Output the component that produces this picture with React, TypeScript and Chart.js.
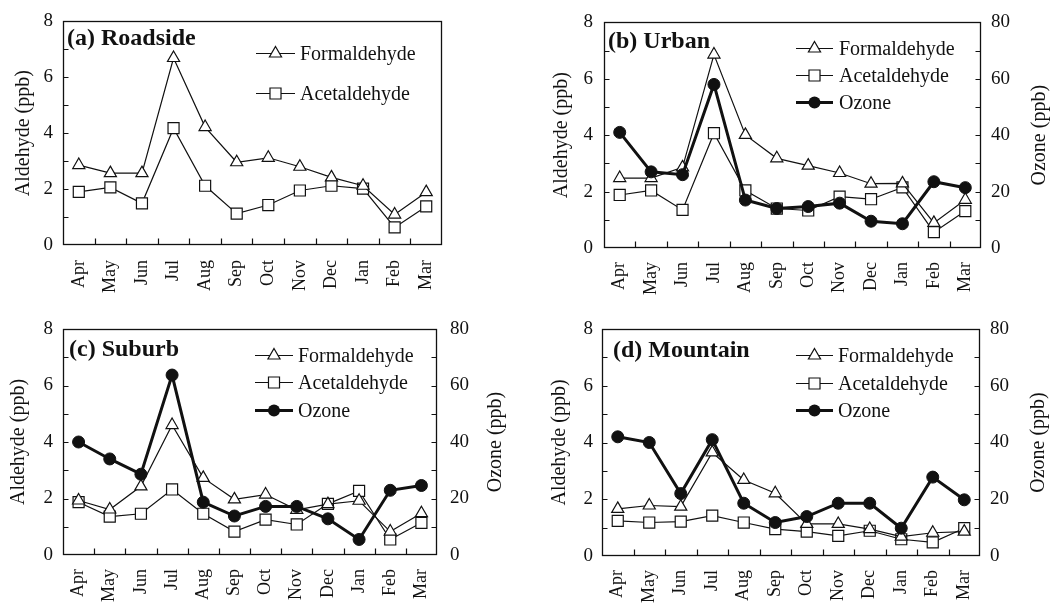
import React, { useEffect, useRef } from 'react';
import { Chart, registerables } from 'chart.js';

Chart.register(...registerables);

// ---------- data ----------
const months = ['Apr', 'May', 'Jun', 'Jul', 'Aug', 'Sep', 'Oct', 'Nov', 'Dec', 'Jan', 'Feb', 'Mar'];
const aldehydeTicks = [0, 2, 4, 6, 8];
const ozoneTicks = [0, 20, 40, 60, 80];

const roadsideFormaldehyde = [2.86, 2.57, 2.57, 6.69, 4.22, 2.96, 3.12, 2.8, 2.42, 2.12, 1.09, 1.89];
const roadsideAcetaldehyde = [1.9, 2.06, 1.49, 4.18, 2.12, 1.12, 1.43, 1.95, 2.12, 2.02, 0.63, 1.38];

const urbanFormaldehyde = [2.48, 2.48, 2.86, 6.86, 4.01, 3.18, 2.92, 2.66, 2.28, 2.29, 0.89, 1.71];
const urbanAcetaldehyde = [1.88, 2.04, 1.35, 4.07, 2.04, 1.4, 1.33, 1.82, 1.73, 2.15, 0.56, 1.31];
const urbanOzone = [41, 27, 26, 58, 17, 14, 14.7, 15.9, 9.5, 8.6, 23.5, 21.4];

const suburbFormaldehyde = [1.93, 1.61, 2.43, 4.6, 2.73, 1.97, 2.14, 1.6, 1.8, 1.92, 0.83, 1.48];
const suburbAcetaldehyde = [1.87, 1.36, 1.46, 2.32, 1.46, 0.83, 1.25, 1.08, 1.81, 2.27, 0.55, 1.14];
const suburbOzone = [40, 34, 28.6, 63.7, 18.7, 13.8, 17.2, 17.2, 12.8, 5.5, 22.9, 24.6];

const mountainFormaldehyde = [1.66, 1.78, 1.74, 3.65, 2.68, 2.21, 1.13, 1.13, 0.95, 0.68, 0.82, 0.86];
const mountainAcetaldehyde = [1.24, 1.18, 1.21, 1.42, 1.18, 0.95, 0.86, 0.71, 0.89, 0.59, 0.48, 0.98];
const mountainOzone = [42, 40, 22, 41, 18.6, 11.8, 13.9, 18.6, 18.6, 9.8, 27.8, 19.8];

// ---------- style ----------
const FONT = '"Liberation Serif", "Times New Roman", serif';
const INK = '#111';

type PanelCfg = {
  title: string;
  left: number; top: number; width: number; height: number;
  formaldehyde: number[]; acetaldehyde: number[]; ozone?: number[];
  padTop: number; padRight: number;
  yWidth: number; yTitlePad: number; yLabelPad: number;
  y1Width: number; y1TitleX: number; y1LabelPad: number;
  xHeight: number; xLabelPad: number;
  titleX: number; titleY: number;
  legLine: [number, number]; legText: number; legRows: number[];
};

const panels: PanelCfg[] = [
  {
    title: '(a) Roadside', left: 0, top: 0, width: 528, height: 302,
    formaldehyde: roadsideFormaldehyde, acetaldehyde: roadsideAcetaldehyde,
    padTop: 19, padRight: 86,
    yWidth: 63, yTitlePad: 12, yLabelPad: 10,
    y1Width: 0, y1TitleX: 0, y1LabelPad: 0,
    xHeight: 57, xLabelPad: 15,
    titleX: 67, titleY: 45,
    legLine: [256, 295], legText: 300, legRows: [53, 93],
  },
  {
    title: '(b) Urban', left: 528, top: 0, width: 528, height: 302,
    formaldehyde: urbanFormaldehyde, acetaldehyde: urbanAcetaldehyde, ozone: urbanOzone,
    padTop: 22, padRight: 0,
    yWidth: 76, yTitlePad: 22, yLabelPad: 11,
    y1Width: 75, y1TitleX: 512, y1LabelPad: 10,
    xHeight: 54, xLabelPad: 14,
    titleX: 80, titleY: 48,
    legLine: [268, 305], legText: 311, legRows: [48, 75, 102],
  },
  {
    title: '(c) Suburb', left: 0, top: 302, width: 528, height: 302,
    formaldehyde: suburbFormaldehyde, acetaldehyde: suburbAcetaldehyde, ozone: suburbOzone,
    padTop: 27, padRight: 0,
    yWidth: 63, yTitlePad: 7, yLabelPad: 10,
    y1Width: 91, y1TitleX: 496, y1LabelPad: 13,
    xHeight: 49, xLabelPad: 14,
    titleX: 69, titleY: 54,
    legLine: [255, 293], legText: 298, legRows: [53, 80, 108],
  },
  {
    title: '(d) Mountain', left: 528, top: 302, width: 528, height: 302,
    formaldehyde: mountainFormaldehyde, acetaldehyde: mountainAcetaldehyde, ozone: mountainOzone,
    padTop: 27, padRight: 0,
    yWidth: 74, yTitlePad: 20, yLabelPad: 9,
    y1Width: 76, y1TitleX: 511, y1LabelPad: 10,
    xHeight: 48, xLabelPad: 14,
    titleX: 85, titleY: 55,
    legLine: [268, 305], legText: 310, legRows: [53, 81, 108],
  },
];

function drawMarker(ctx: CanvasRenderingContext2D, kind: string, x: number, y: number, r: number) {
  ctx.beginPath();
  if (kind === 'triangle') {
    ctx.moveTo(x, y - r);
    ctx.lineTo(x + 0.866 * r, y + 0.5 * r);
    ctx.lineTo(x - 0.866 * r, y + 0.5 * r);
    ctx.closePath();
    ctx.fillStyle = '#fff';
    ctx.fill();
    ctx.lineWidth = 1.2;
    ctx.stroke();
  } else if (kind === 'rect') {
    const s = r * Math.SQRT1_2;
    ctx.rect(x - s, y - s, 2 * s, 2 * s);
    ctx.fillStyle = '#fff';
    ctx.fill();
    ctx.lineWidth = 1.2;
    ctx.stroke();
  } else {
    ctx.arc(x, y, r, 0, Math.PI * 2);
    ctx.fillStyle = INK;
    ctx.fill();
  }
}

function makeDecor(cfg: PanelCfg) {
  return {
    id: 'decor',
    afterDraw(chart: any) {
      const ctx: CanvasRenderingContext2D = chart.ctx;
      const { left, right, top, bottom } = chart.chartArea;
      const L = Math.round(left) + 0.5;
      const R = Math.round(right) - 0.5;
      const T = Math.round(top) + 0.5;
      const B = Math.round(bottom) - 0.5;
      ctx.save();
      ctx.strokeStyle = INK;
      ctx.lineWidth = 1.3;
      ctx.strokeRect(L, T, R - L, B - T);

      // x ticks at category boundaries (inward)
      const xs = chart.scales.x;
      ctx.lineWidth = 1.2;
      ctx.beginPath();
      for (let i = 0; i < months.length - 1; i++) {
        const bx = Math.round((xs.getPixelForValue(i) + xs.getPixelForValue(i + 1)) / 2) + 0.5;
        ctx.moveTo(bx, B);
        ctx.lineTo(bx, B - 6);
      }
      // left y ticks (major + minor)
      const ys = chart.scales.y;
      for (let v = 1; v < 8; v++) {
        const py = Math.round(ys.getPixelForValue(v)) + 0.5;
        ctx.moveTo(L, py);
        ctx.lineTo(L + 5, py);
      }
      // right y ticks
      if (chart.scales.y1) {
        const y1 = chart.scales.y1;
        for (let v = 10; v < 80; v += 10) {
          const py = Math.round(y1.getPixelForValue(v)) + 0.5;
          ctx.moveTo(R, py);
          ctx.lineTo(R - 5, py);
        }
      }
      ctx.stroke();

      // right axis title, reading bottom to top
      if (chart.scales.y1) {
        ctx.save();
        ctx.translate(cfg.y1TitleX, (top + bottom) / 2);
        ctx.rotate(-Math.PI / 2);
        ctx.font = `20px ${FONT}`;
        ctx.fillStyle = INK;
        ctx.textAlign = 'center';
        ctx.textBaseline = 'middle';
        ctx.fillText('Ozone (ppb)', 0, 0);
        ctx.restore();
      }

      // panel title
      ctx.fillStyle = INK;
      ctx.font = `bold 24px ${FONT}`;
      ctx.textBaseline = 'alphabetic';
      ctx.textAlign = 'left';
      ctx.fillText(cfg.title, cfg.titleX, cfg.titleY);

      // legend
      const ds = chart.data.datasets;
      ctx.font = `20px ${FONT}`;
      ctx.textBaseline = 'middle';
      for (let i = 0; i < ds.length && i < cfg.legRows.length; i++) {
        const d = ds[i];
        const y = cfg.legRows[i] + 0.5;
        ctx.strokeStyle = INK;
        ctx.lineWidth = d.borderWidth;
        ctx.beginPath();
        ctx.moveTo(cfg.legLine[0], y);
        ctx.lineTo(cfg.legLine[1], y);
        ctx.stroke();
        drawMarker(ctx, d.pointStyle, (cfg.legLine[0] + cfg.legLine[1]) / 2, y, d.pointRadius);
        ctx.fillStyle = INK;
        ctx.fillText(d.label, cfg.legText, y + 1);
      }
      ctx.restore();
    },
  };
}

function buildChart(canvas: HTMLCanvasElement, cfg: PanelCfg) {
  const datasets: any[] = [
    {
      label: 'Formaldehyde', data: cfg.formaldehyde, yAxisID: 'y',
      borderColor: INK, borderWidth: 1.2, tension: 0,
      pointStyle: 'triangle', pointRadius: 7, pointBackgroundColor: '#fff',
      pointBorderColor: INK, pointBorderWidth: 1.2, order: 1,
    },
    {
      label: 'Acetaldehyde', data: cfg.acetaldehyde, yAxisID: 'y',
      borderColor: INK, borderWidth: 1.2, tension: 0,
      pointStyle: 'rect', pointRadius: 7.8, pointBackgroundColor: '#fff',
      pointBorderColor: INK, pointBorderWidth: 1.2, order: 2,
    },
  ];
  if (cfg.ozone) {
    datasets.push({
      label: 'Ozone', data: cfg.ozone, yAxisID: 'y1',
      borderColor: INK, borderWidth: 3, tension: 0,
      pointStyle: 'circle', pointRadius: 6, pointBackgroundColor: INK,
      pointBorderColor: INK, pointBorderWidth: 1, order: 0,
    });
  }
  const tickFont = { family: FONT, size: 19 };
  const scales: any = {
    x: {
      type: 'category', offset: true,
      grid: { display: false, drawTicks: false }, border: { display: false },
      ticks: { minRotation: 90, maxRotation: 90, autoSkip: false, padding: cfg.xLabelPad, font: { family: FONT, size: 18 }, color: INK },
      afterFit: (s: any) => { s.height = cfg.xHeight; },
    },
    y: {
      position: 'left', min: 0, max: 8,
      afterBuildTicks: (s: any) => { s.ticks = aldehydeTicks.map((v) => ({ value: v })); },
      grid: { display: false, drawTicks: false }, border: { display: false },
      ticks: { padding: cfg.yLabelPad, font: tickFont, color: INK },
      title: { display: true, text: 'Aldehyde (ppb)', color: INK, font: { family: FONT, size: 20 }, padding: { top: cfg.yTitlePad, bottom: 0 } },
      afterFit: (s: any) => { s.width = cfg.yWidth; },
    },
  };
  if (cfg.ozone) {
    scales.y1 = {
      position: 'right', min: 0, max: 80,
      afterBuildTicks: (s: any) => { s.ticks = ozoneTicks.map((v) => ({ value: v })); },
      grid: { display: false, drawTicks: false }, border: { display: false },
      ticks: { padding: cfg.y1LabelPad, font: tickFont, color: INK },
      title: { display: false },
      afterFit: (s: any) => { s.width = cfg.y1Width; },
    };
  }
  return new Chart(canvas, {
    type: 'line',
    data: { labels: months, datasets },
    options: {
      responsive: false,
      animation: false,
      devicePixelRatio: 1,
      layout: { padding: { top: cfg.padTop, right: cfg.padRight, left: 0, bottom: 0 } },
      plugins: { legend: { display: false }, tooltip: { enabled: false }, title: { display: false } },
      scales,
    },
    plugins: [makeDecor(cfg)],
  } as any);
}

function Panel({ cfg }: { cfg: PanelCfg }) {
  const ref = useRef<HTMLCanvasElement>(null);
  useEffect(() => {
    const chart = buildChart(ref.current as HTMLCanvasElement, cfg);
    return () => chart.destroy();
  }, [cfg]);
  return (
    <canvas
      ref={ref}
      width={cfg.width}
      height={cfg.height}
      style={{ position: 'absolute', left: cfg.left, top: cfg.top, width: cfg.width, height: cfg.height }}
    />
  );
}

export default function App() {
  return (
    <div style={{ position: 'absolute', left: 0, top: 0, width: 1056, height: 604, background: '#fff', overflow: 'hidden' }}>
      {panels.map((p) => (
        <Panel key={p.title} cfg={p} />
      ))}
    </div>
  );
}
